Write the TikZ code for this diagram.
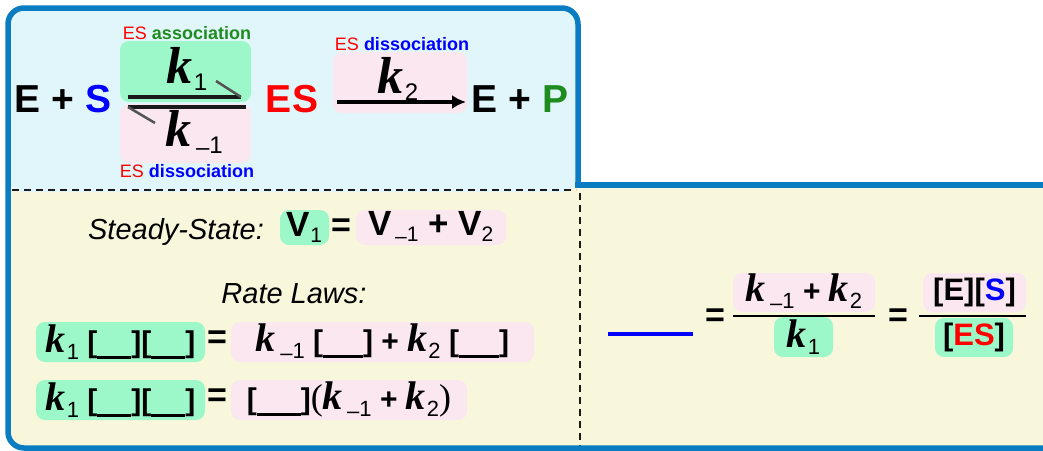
\documentclass[tikz,border=0pt]{standalone}
\usepackage{fontspec}
\setmainfont{Liberation Sans}
\newfontfamily\tms{Liberation Serif}
\usetikzlibrary{arrows.meta}

\definecolor{framecol}{HTML}{0A7DC2}
\definecolor{skycol}{HTML}{E1F6FA}
\definecolor{creamcol}{HTML}{F8F7DC}
\definecolor{mintcol}{HTML}{9CF8C8}
\definecolor{rosecol}{HTML}{FBE7F0}
\definecolor{leafcol}{HTML}{1E8C1E}
\definecolor{ink}{HTML}{1A1A1A}

% rate constant k with a sans subscript
\newcommand{\kk}[3]{{\fontsize{#1}{#1}\tms\bfseries\itshape k}{\fontsize{#2}{#2}\selectfont\mdseries\upshape\kern0.05em\raisebox{-0.3em}{#3}}}
\newcommand{\vv}[1]{V{\fontsize{21}{21}\selectfont\mdseries\raisebox{-0.3em}{#1}}}
\newcommand{\mone}{\kern0.15em\raisebox{-0.1em}{–}1}
\newcommand{\blank}[1]{[\rule[-0.21em]{#1pt}{0.1em}]}

\tikzset{
  gbox/.style={fill=mintcol, rounded corners=9pt, inner sep=0pt},
  pbox/.style={fill=rosecol, rounded corners=9pt, inner sep=0pt},
  bigtxt/.style={font=\fontsize{39}{40}\selectfont\bfseries, inner sep=0pt, anchor=base},
  note/.style={font=\fontsize{18}{20}\selectfont, inner sep=0pt},
  eqs/.style={font=\fontsize{34}{36}\selectfont\bfseries, inner sep=0pt},
  rowtxt/.style={font=\fontsize{30}{32}\selectfont\bfseries},
  harp/.style={draw=ink, line width=4pt},
  barb/.style={draw=ink!75, line width=2.5pt},
  frame/.style={draw=framecol, line width=5.5pt},
  dashline/.style={draw=ink, line width=1.8pt, dash pattern=on 7pt off 5pt}
}

\begin{document}
\begin{tikzpicture}[x=1pt,y=-1pt]
\useasboundingbox (0,0) rectangle (1043,450);
\clip (0,0) rectangle (1043,450);

\fill[creamcol, rounded corners=16pt] (8,185) rectangle (1060,448);
\fill[skycol, rounded corners=16pt] (8,8) rectangle (578,192);
\draw[dashline] (12,190) -- (576,190);
\draw[dashline] (580,193) -- (580,447);
\draw[frame, rounded corners=16pt] (578,187.75) -- (578,8) -- (8,8) -- (8,448) -- (1060,448);
\draw[frame] (575.25,185) -- (1060,185);

% reaction
\node[gbox, minimum width=131, minimum height=61] (kfbox) at (185.5,71.5) {};
\node[pbox, minimum width=131, minimum height=59] (krbox) at (185.5,133.5) {};
\node[pbox, minimum width=134, minimum height=61] (ksbox) at (400,82.5) {};

\node[bigtxt] (es) at (63,112) {E + \textcolor{blue}{S}};
\node[bigtxt, text=red] (cplx) at (292,112) {ES};
\node[bigtxt] (ep) at (520,112) {E + \textcolor{leafcol}{P}};

\node[anchor=base, inner sep=0pt] (kf) at (187,83) {\kk{52}{24}{1}};
\node[anchor=base, inner sep=0pt] (kr) at (194,146) {\kk{52}{24}{\mone}};
\node[anchor=base, inner sep=0pt] (ks) at (398,93) {\kk{52}{24}{2}};

\node[note] (lblf) at (187,33) {\textcolor{red}{ES} \textcolor{leafcol}{\bfseries association}};
\node[note] (lblr) at (187,171) {\textcolor{red}{ES} \textcolor{blue}{\bfseries dissociation}};
\node[note] (lbls) at (402,44) {\textcolor{red}{ES} \textcolor{blue}{\bfseries dissociation}};

\coordinate (fw1) at (128,97);
\coordinate (fw2) at (241,97);
\coordinate (fw3) at (216,81);
\coordinate (bw1) at (246,107);
\coordinate (bw2) at (128,107);
\coordinate (bw3) at (155,123);
\draw[harp] (fw1) -- (fw2);
\draw[barb] (fw2) -- (fw3);
\draw[harp] (bw1) -- (bw2);
\draw[barb] (bw2) -- (bw3);

\coordinate (ar1) at (337,102);
\coordinate (ar2) at (466,102);
\draw[line width=3.5pt, -{Latex[length=14pt, width=14pt]}] (ar1) -- (ar2);

% steady state
\node[anchor=base, font=\fontsize{29}{30}\selectfont\itshape, inner sep=0pt] (ss) at (176,239) {Steady-State:};
\node[gbox, font=\fontsize{35}{36}\selectfont\bfseries, minimum width=49, minimum height=35] (v1) at (304.5,227.5) {\vv{1}};
\node[eqs] (eq0) at (341,228) {=};
\node[pbox, font=\fontsize{35}{36}\selectfont\bfseries, minimum width=150, minimum height=35] (vr) at (431,227.5) {\vv{\mone} + \vv{2}};

\node[anchor=base, font=\fontsize{29}{30}\selectfont\itshape, inner sep=0pt] (rl) at (294,303) {Rate Laws:};

\node[gbox, rowtxt, minimum width=169, minimum height=40] (r1l) at (120.5,342) {\kk{40}{22}{1}\ \blank{34}\blank{34}};
\node[eqs] (eq1) at (217,340) {=};
\node[pbox, rowtxt, minimum width=303, minimum height=40] (r1r) at (382.5,342) {\kk{40}{22}{\mone}\ \blank{40} + \kk{40}{22}{2}\ \blank{40}};

\node[gbox, rowtxt, minimum width=169, minimum height=40] (r2l) at (120.5,400) {\kk{40}{22}{1}\ \blank{34}\blank{34}};
\node[eqs] (eq2) at (217,398) {=};
\node[pbox, rowtxt, minimum width=236, minimum height=40] (r2r) at (349,400) {\blank{44}{\fontsize{36}{36}\tms\mdseries(}\kk{40}{22}{\mone} + \kk{40}{22}{2}{\fontsize{36}{36}\tms\mdseries)}};

% Km
\coordinate (km1) at (608,334);
\coordinate (km2) at (693,334);
\draw[blue, line width=3.5pt] (km1) -- (km2);
\node[eqs] (eq3) at (715,318) {=};
\node[pbox, rowtxt, minimum width=142, minimum height=39] (nf1) at (804,292.5) {\kk{40}{22}{\mone} + \kk{40}{22}{2}};
\node[gbox, rowtxt, minimum width=59, minimum height=40] (df1) at (803.5,337) {\kk{40}{22}{1}};
\coordinate (fb1) at (733,316);
\coordinate (fb2) at (875,316);
\draw[line width=2pt] (fb1) -- (fb2);
\node[eqs] (eq4) at (898,318) {=};
\node[pbox, font=\fontsize{31}{34}\selectfont\bfseries, minimum width=103, minimum height=39] (nf2) at (974.5,292.5) {[E][\textcolor{blue}{S}]};
\node[gbox, font=\fontsize{31}{34}\selectfont\bfseries, minimum width=78, minimum height=39] (df2) at (974,337.5) {[\textcolor{red}{ES}]};
\coordinate (fb3) at (919,316);
\coordinate (fb4) at (1026,316);
\draw[line width=2pt] (fb3) -- (fb4);
\end{tikzpicture}
\end{document}
